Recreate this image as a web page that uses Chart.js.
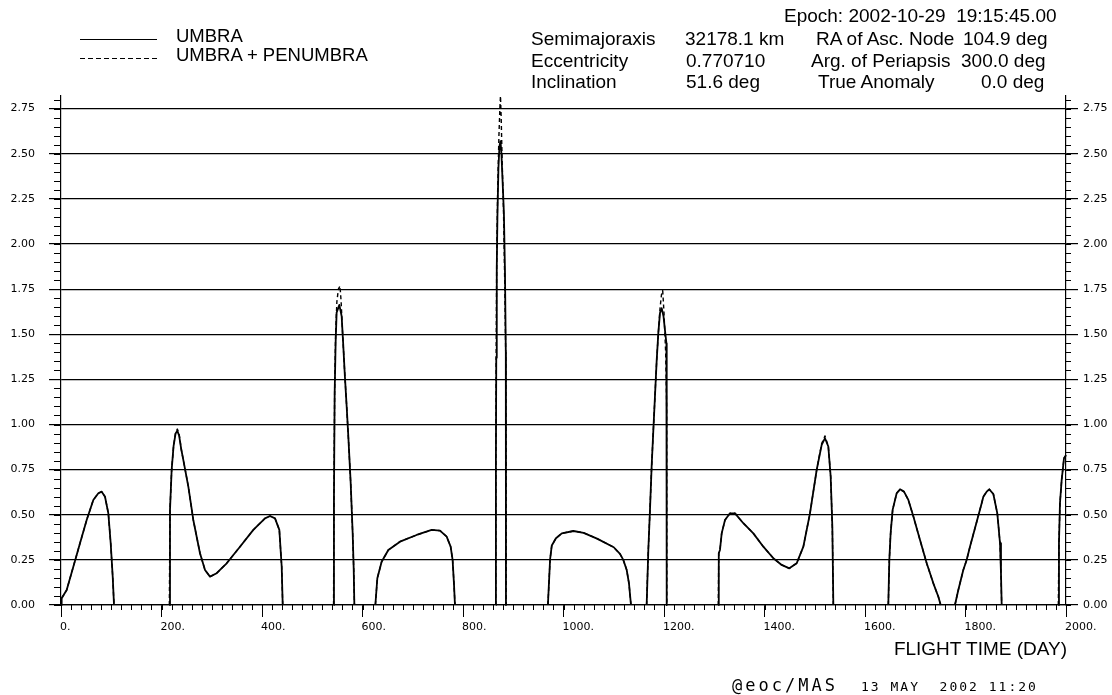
<!DOCTYPE html>
<html>
<head>
<meta charset="utf-8">
<script src="https://cdn.jsdelivr.net/npm/chart.js@4.4.0/dist/chart.umd.min.js"></script>
<style>
  body { margin: 0; background: #fff; }
  #quadro { position: relative; width: 1112px; height: 695px; font-family: "Liberation Sans", Arial, sans-serif; color: #000; }
  #grafico { position: absolute; left: 0; top: 0; }
  .t { position: absolute; white-space: pre; line-height: 1; }
  .cab { font-size: 19px; }
  .leg { font-size: 18.5px; }
  .amostra { position: absolute; left: 80px; width: 77px; height: 1.5px; }
  .rodape { font-family: "DejaVu Sans Mono", monospace; }
</style>
</head>
<body>
<div id="quadro">
  <canvas id="grafico" width="1112" height="695"></canvas>

  <!-- legenda -->
  <div class="amostra" style="top:38.5px; background:#000;"></div>
  <div class="amostra" style="top:57.5px; background:repeating-linear-gradient(to right, #000 0 5px, transparent 5px 8px);"></div>
  <div class="t leg" style="left:176px; top:27px;">UMBRA</div>
  <div class="t leg" style="left:176px; top:46px;">UMBRA + PENUMBRA</div>

  <!-- cabeçalho da órbita -->
  <div class="t cab" style="left:784px; top:6px;">Epoch: 2002-10-29  19:15:45.00</div>
  <div class="t cab" style="left:531px; top:29px;">Semimajoraxis</div>
  <div class="t cab" style="left:685px; top:29px;">32178.1 km</div>
  <div class="t cab" style="left:816px; top:29px;">RA of Asc. Node</div>
  <div class="t cab" style="left:963px; top:29px;">104.9 deg</div>
  <div class="t cab" style="left:531px; top:50.5px;">Eccentricity</div>
  <div class="t cab" style="left:686px; top:50.5px;">0.770710</div>
  <div class="t cab" style="left:811px; top:50.5px;">Arg. of Periapsis</div>
  <div class="t cab" style="left:961px; top:50.5px;">300.0 deg</div>
  <div class="t cab" style="left:531px; top:72px;">Inclination</div>
  <div class="t cab" style="left:686px; top:72px;">51.6 deg</div>
  <div class="t cab" style="left:818px; top:72px;">True Anomaly</div>
  <div class="t cab" style="left:981px; top:72px;">0.0 deg</div>

  <!-- título do eixo e rodapé -->
  <div class="t" style="right:45px; top:638.5px; font-size:19px;">FLIGHT TIME (DAY)</div>
  <div class="t rodape" style="left:732px; top:677px; font-size:17px; letter-spacing:3px;">@eoc/MAS</div>
  <div class="t rodape" style="left:861px; top:680px; font-size:13px; letter-spacing:2px;">13 MAY  2002 11:20</div>
</div>

<script>
// Dados (dias de voo / duração do eclipse), null separa os arcos
const umbraDia = [
  0, 1.3, 11.3, 24.5, 37.8, 51.1, 64.3, 74.3, 81, 87.6, 94.2, 98.9, 102.9, 105.5, 160,
  215.6, 216.9, 220.2, 224, 228, 231.5, 235, 239.5, 243.4, 253.4, 263.3, 276.6, 286.6, 296.5, 309.8, 329.7, 356.2, 382.7, 406, 416, 425.9, 434.5, 439.2, 441.2, 490,
  542.6, 543.2, 544.6, 546.5, 548.5, 553.9, 558.5, 561.5, 565, 568.5, 571.8, 576.5, 580.4, 582.5, 583.8, 600,
  625.6, 629.5, 638.1, 651.4, 674.6, 707.7, 737.6, 754.2, 767.5, 775.4, 779.3, 782, 784, 820,
  865.4, 865.5, 866.2, 867.2, 868.5, 870.5, 872.5, 874.6, 876.5, 878.6, 881.4, 883.5, 885.2, 885.5, 930,
  969, 973.3, 976.7, 985, 996.6, 1019.9, 1040, 1066.7, 1100, 1112.4, 1119, 1125.8, 1130.3, 1134.3, 1150,
  1165.5, 1168.8, 1172.1, 1175.4, 1178.8, 1182, 1185.5, 1188.7, 1192, 1195.4, 1199, 1202, 1204.8, 1205.3, 1205.5, 1250,
  1308, 1309, 1311.4, 1314.8, 1321.4, 1331.3, 1341.3, 1357.9, 1377.8, 1397.7, 1417.6, 1434.2, 1449.4, 1464, 1477.3, 1490.5, 1503.8, 1513.8, 1520.4, 1527, 1531.7, 1535, 1537, 1590,
  1646.4, 1648.4, 1651, 1655, 1663, 1669.7, 1677.6, 1686.3, 1696.3, 1709.5, 1722.8, 1736, 1746, 1750.6, 1765,
  1779, 1785.7, 1795.6, 1802.3, 1808.9, 1822.2, 1832.2, 1835.5, 1842.1, 1847.4, 1855.4, 1863.3, 1868.7, 1870.6, 1872, 1930,
  1984.7, 1986, 1988, 1991.4, 1996, 2000
];
const umbraHoras = [
  0, 0.037, 0.083, 0.212, 0.342, 0.471, 0.582, 0.619, 0.628, 0.60, 0.508, 0.342, 0.157, 0, null,
  0, 0.527, 0.748, 0.88, 0.95, 0.965, 0.94, 0.86, 0.804, 0.656, 0.471, 0.287, 0.194, 0.157, 0.176, 0.231, 0.323, 0.416, 0.48, 0.493, 0.48, 0.416, 0.212, 0, null,
  0, 0.6, 1.17, 1.45, 1.62, 1.663, 1.60, 1.45, 1.265, 1.10, 0.933, 0.675, 0.40, 0.2, 0, null,
  0, 0.148, 0.24, 0.305, 0.351, 0.388, 0.416, 0.412, 0.379, 0.323, 0.25, 0.12, 0, null,
  0, 0.8, 1.37, 1.87, 2.15, 2.42, 2.54, 2.57, 2.5, 2.36, 2.17, 1.85, 1.4, 0, null,
  0, 0.253, 0.33, 0.37, 0.397, 0.41, 0.40, 0.368, 0.32, 0.283, 0.25, 0.194, 0.12, 0, null,
  0, 0.305, 0.527, 0.767, 0.97, 1.155, 1.358, 1.506, 1.617, 1.645, 1.6, 1.52, 1.45, 0.8, 0, null,
  0, 0.287, 0.305, 0.397, 0.471, 0.508, 0.508, 0.453, 0.397, 0.323, 0.259, 0.222, 0.203, 0.231, 0.323, 0.508, 0.748, 0.887, 0.924, 0.878, 0.711, 0.434, 0, null,
  0, 0.249, 0.397, 0.527, 0.619, 0.641, 0.628, 0.582, 0.49, 0.36, 0.231, 0.12, 0.046, 0, null,
  0, 0.083, 0.194, 0.249, 0.323, 0.46, 0.564, 0.60, 0.628, 0.641, 0.615, 0.508, 0.342, 0.176, 0, null,
  0, 0.342, 0.564, 0.693, 0.813, 0.83
];
const penumbraDia = [
  0, 1.3, 11.3, 24.5, 37.8, 51.1, 64.3, 74.3, 81, 87.6, 94.2, 98.9, 102.9, 105.5, 160,
  215.6, 216.9, 220.2, 224, 228, 231.5, 235, 239.5, 243.4, 253.4, 263.3, 276.6, 286.6, 296.5, 309.8, 329.7, 356.2, 382.7, 406, 416, 425.9, 434.5, 439.2, 441.2, 490,
  542.4, 543.2, 544.6, 546.5, 549, 552, 555.2, 557.5, 560.5, 565, 568.5, 571.8, 576.5, 580.4, 582.5, 584, 600,
  625.6, 629.5, 638.1, 651.4, 674.6, 707.7, 737.6, 754.2, 767.5, 775.4, 779.3, 782, 784, 820,
  865.2, 865.4, 866, 867.2, 869, 871.5, 873.5, 874.6, 876, 878, 880.5, 883, 885.2, 885.7, 885.8, 930,
  969, 973.3, 976.7, 985, 996.6, 1019.9, 1040, 1066.7, 1100, 1112.4, 1119, 1125.8, 1130.3, 1134.3, 1150,
  1165.3, 1168.8, 1172.1, 1175.4, 1178.8, 1182, 1185.5, 1188.7, 1192, 1195, 1197.4, 1200, 1203.3, 1205.3, 1205.6, 1250,
  1308, 1309, 1311.4, 1314.8, 1321.4, 1331.3, 1341.3, 1357.9, 1377.8, 1397.7, 1417.6, 1434.2, 1449.4, 1464, 1477.3, 1490.5, 1503.8, 1513.8, 1520.4, 1527, 1531.7, 1535, 1537, 1590,
  1646.4, 1648.4, 1651, 1655, 1663, 1669.7, 1677.6, 1686.3, 1696.3, 1709.5, 1722.8, 1736, 1746, 1750.6, 1765,
  1779, 1785.7, 1795.6, 1802.3, 1808.9, 1822.2, 1832.2, 1835.5, 1842.1, 1847.4, 1855.4, 1863.3, 1868.7, 1870.6, 1872, 1930,
  1984.7, 1986, 1988, 1991.4, 1996, 2000
];
const penumbraHoras = [
  0, 0.037, 0.083, 0.212, 0.342, 0.471, 0.582, 0.619, 0.628, 0.60, 0.508, 0.342, 0.157, 0, null,
  0, 0.527, 0.748, 0.88, 0.955, 0.975, 0.95, 0.86, 0.804, 0.656, 0.471, 0.287, 0.194, 0.157, 0.176, 0.231, 0.323, 0.416, 0.48, 0.493, 0.48, 0.416, 0.212, 0, null,
  0, 0.6, 1.2, 1.5, 1.68, 1.75, 1.768, 1.68, 1.5, 1.265, 1.10, 0.933, 0.675, 0.40, 0.2, 0, null,
  0, 0.148, 0.24, 0.305, 0.351, 0.388, 0.416, 0.412, 0.379, 0.323, 0.25, 0.12, 0, null,
  0, 0.8, 1.4, 1.95, 2.3, 2.6, 2.76, 2.82, 2.7, 2.45, 2.2, 1.8, 1.35, 0.8, 0, null,
  0, 0.253, 0.33, 0.37, 0.397, 0.41, 0.40, 0.368, 0.32, 0.283, 0.25, 0.194, 0.12, 0, null,
  0, 0.305, 0.527, 0.767, 0.97, 1.155, 1.358, 1.506, 1.64, 1.72, 1.742, 1.62, 1.40, 1.1, 0, null,
  0, 0.287, 0.305, 0.397, 0.471, 0.508, 0.508, 0.453, 0.397, 0.323, 0.259, 0.222, 0.203, 0.231, 0.323, 0.508, 0.748, 0.895, 0.937, 0.878, 0.711, 0.434, 0, null,
  0, 0.249, 0.397, 0.527, 0.619, 0.641, 0.628, 0.582, 0.49, 0.36, 0.231, 0.12, 0.046, 0, null,
  0, 0.083, 0.194, 0.249, 0.323, 0.46, 0.564, 0.60, 0.628, 0.641, 0.615, 0.508, 0.342, 0.176, 0, null,
  0, 0.342, 0.564, 0.693, 0.813, 0.83
];

// Marcas dos eixos
const ticksY = [0, 0.25, 0.5, 0.75, 1, 1.25, 1.5, 1.75, 2, 2.25, 2.5, 2.75];
const passoMenorX = 20;
const passoMenorY = 0.05;

function pontos(dias, horas) {
  return dias.map((d, i) => ({ x: d, y: horas[i] }));
}

// traços menores dos eixos (fora da área do gráfico)
const tracosMenores = {
  id: "tracosMenores",
  afterDraw(chart) {
    const { ctx, chartArea: area } = chart;
    const x = chart.scales.x;
    const y = chart.scales.y;
    ctx.save();
    ctx.strokeStyle = "#000";
    ctx.lineWidth = 1;
    ctx.beginPath();
    for (let i = 0; i * passoMenorX <= x.max; i++) {
      const px = Math.round(x.getPixelForValue(i * passoMenorX)) + 0.5;
      ctx.moveTo(px, area.bottom);
      ctx.lineTo(px, area.bottom + 5);
    }
    for (let i = 0; i * passoMenorY <= y.max; i++) {
      const py = Math.round(y.getPixelForValue(i * passoMenorY)) + 0.5;
      ctx.moveTo(area.left - 7, py);
      ctx.lineTo(area.left, py);
      ctx.moveTo(area.right, py);
      ctx.lineTo(area.right + 5, py);
    }
    ctx.stroke();
    ctx.restore();
  }
};

document.addEventListener("DOMContentLoaded", () => {
  const fonteTicks = { family: "'DejaVu Sans', sans-serif", size: 11 };
  const eixoY = (lado) => ({
    type: "linear",
    position: lado,
    min: 0,
    max: 2.82,
    afterBuildTicks: (s) => { s.ticks = ticksY.map(v => ({ value: v })); },
    afterFit: (s) => { s.width = lado === "left" ? 61 : 46; },
    ticks: {
      color: "#000",
      font: fonteTicks,
      padding: lado === "left" ? 14 : 5,
      callback: v => v.toFixed(2)
    },
    grid: {
      color: "#000",
      lineWidth: 1.2,
      tickLength: 12,
      drawOnChartArea: lado === "left"
    },
    border: { color: "#000", width: 1.2 }
  });

  const ctx = document.getElementById("grafico").getContext("2d");
  new Chart(ctx, {
    type: "line",
    data: {
      datasets: [{
        label: "UMBRA + PENUMBRA",
        data: pontos(penumbraDia, penumbraHoras),
        borderColor: "#000",
        borderWidth: 1.4,
        borderDash: [4, 3],
        borderJoinStyle: "round",
        pointRadius: 0,
        spanGaps: false,
        clip: false
      }, {
        label: "UMBRA",
        data: pontos(umbraDia, umbraHoras),
        borderColor: "#000",
        borderWidth: 1.8,
        borderJoinStyle: "round",
        pointRadius: 0,
        spanGaps: false,
        clip: false
      }]
    },
    options: {
      responsive: false,
      animation: false,
      devicePixelRatio: 1,
      layout: { padding: { top: 96, left: 0, right: 0, bottom: 0 } },
      plugins: {
        legend: { display: false },
        tooltip: { enabled: false }
      },
      scales: {
        x: {
          type: "linear",
          min: 0,
          max: 2000,
          afterFit: (s) => { s.height = 90; },
          ticks: {
            stepSize: 200,
            color: "#000",
            font: fonteTicks,
            padding: 4,
            align: "start",
            labelOffset: -1,
            maxRotation: 0,
            autoSkip: false,
            callback: v => v + "."
          },
          grid: { drawOnChartArea: false, color: "#000", lineWidth: 1, tickLength: 12 },
          border: { color: "#000", width: 1.2 }
        },
        y: eixoY("left"),
        y2: eixoY("right")
      }
    },
    plugins: [tracosMenores]
  });
});
</script>
</body>
</html>
